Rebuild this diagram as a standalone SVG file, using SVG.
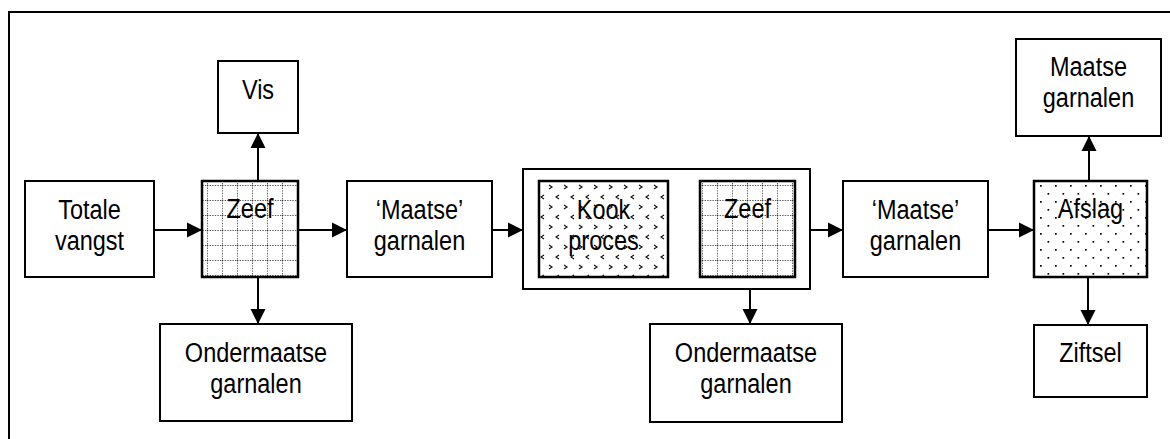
<svg xmlns="http://www.w3.org/2000/svg" width="1170" height="439" viewBox="0 0 1170 439">
<style>
.box{fill:#fff;stroke:#000;stroke-width:2}
.thick{stroke-width:2.5}
.t{font-family:"Liberation Sans",Arial,sans-serif;font-size:27px;fill:#000;text-anchor:middle}
.c{stroke:#000;stroke-width:2;fill:none}
</style>
<defs>
<marker id="ah" markerUnits="userSpaceOnUse" markerWidth="16" markerHeight="16" viewBox="0 0 16 16" refX="15" refY="8" orient="auto">
<path d="M0,0.5 L15,8 L0,15.5 Z" fill="#000"/>
</marker>
<pattern id="grid" patternUnits="userSpaceOnUse" x="207" y="185" width="15" height="15">
<line x1="0" y1="0" x2="15" y2="0" stroke="#222" stroke-width="1.4" stroke-dasharray="1.4 1.2"/>
<line x1="0" y1="0" x2="0" y2="15" stroke="#222" stroke-width="1.4" stroke-dasharray="1.4 1.2"/>
</pattern>
<pattern id="chev" patternUnits="userSpaceOnUse" x="540" y="182" width="15" height="20">
<path d="M9,3 L12,5 L9,7" stroke="#111" stroke-width="1.2" fill="none"/>
<path d="M4,13 L1,15 L4,17" stroke="#111" stroke-width="1.2" fill="none"/>
</pattern>
<pattern id="dots" patternUnits="userSpaceOnUse" x="1040" y="185" width="15" height="16">
<rect x="0" y="0" width="1.7" height="1.7" fill="#000"/>
<rect x="7.5" y="8" width="1.7" height="1.7" fill="#000"/>
</pattern>
</defs>
<rect x="9" y="12" width="1175" height="440" fill="none" stroke="#000" stroke-width="2"/>
<g id="connectors">
<line class="c" x1="154" y1="230" x2="202" y2="230" marker-end="url(#ah)"/>
<line class="c" x1="258" y1="181" x2="258" y2="133" marker-end="url(#ah)"/>
<line class="c" x1="258" y1="277" x2="258" y2="324" marker-end="url(#ah)"/>
<line class="c" x1="298" y1="230" x2="347" y2="230" marker-end="url(#ah)"/>
<line class="c" x1="492" y1="230" x2="523" y2="230" marker-end="url(#ah)"/>
<line class="c" x1="668" y1="230" x2="700" y2="230" marker-end="url(#ah)"/>
<line class="c" x1="750" y1="277" x2="750" y2="324" marker-end="url(#ah)"/>
<line class="c" x1="810" y1="230" x2="843" y2="230" marker-end="url(#ah)"/>
<line class="c" x1="988" y1="230" x2="1034" y2="230" marker-end="url(#ah)"/>
<line class="c" x1="1089" y1="181" x2="1089" y2="136" marker-end="url(#ah)"/>
<line class="c" x1="1088" y1="277" x2="1088" y2="325" marker-end="url(#ah)"/>
</g>
<g id="totale"><rect class="box" x="25" y="181" width="129" height="96"/><text class="t" transform="translate(89.5 219) scale(0.87 1)">Totale</text><text class="t" transform="translate(89.5 250) scale(0.87 1)">vangst</text></g>
<g id="zeef1"><rect class="box thick" x="202" y="181" width="96" height="96"/><rect x="203" y="182" width="94" height="94" fill="url(#grid)"/><text class="t" transform="translate(250 218) scale(0.87 1)">Zeef</text></g>
<g id="vis"><rect class="box" x="218" y="61" width="80" height="72"/><text class="t" transform="translate(258 99) scale(0.87 1)">Vis</text></g>
<g id="onder1"><rect class="box" x="160" y="324" width="192" height="97"/><text class="t" transform="translate(256 362) scale(0.87 1)">Ondermaatse</text><text class="t" transform="translate(256 393) scale(0.87 1)">garnalen</text></g>
<g id="maatse1"><rect class="box" x="347" y="181" width="145" height="96"/><text class="t" transform="translate(419.5 219) scale(0.87 1)">‘Maatse’</text><text class="t" transform="translate(419.5 250) scale(0.87 1)">garnalen</text></g>
<g id="kookgroep"><rect class="box" x="523" y="169" width="287" height="120"/></g>
<g id="kook"><rect class="box thick" x="539" y="181" width="129" height="96"/><rect x="540" y="182" width="127" height="94" fill="url(#chev)"/><text class="t" transform="translate(603.5 219) scale(0.87 1)">Kook</text><text class="t" transform="translate(603.5 250) scale(0.87 1)">proces</text></g>
<g id="zeef2"><rect class="box thick" x="700" y="181" width="95" height="96"/><rect x="701" y="182" width="93" height="94" fill="url(#grid)"/><text class="t" transform="translate(747.5 218) scale(0.87 1)">Zeef</text></g>
<g id="onder2"><rect class="box" x="650" y="324" width="192" height="98"/><text class="t" transform="translate(746 362) scale(0.87 1)">Ondermaatse</text><text class="t" transform="translate(746 393) scale(0.87 1)">garnalen</text></g>
<g id="maatse2"><rect class="box" x="843" y="181" width="145" height="96"/><text class="t" transform="translate(915.5 219) scale(0.87 1)">‘Maatse’</text><text class="t" transform="translate(915.5 250) scale(0.87 1)">garnalen</text></g>
<g id="afslag"><rect class="box thick" x="1034" y="181" width="113" height="96"/><rect x="1035" y="182" width="111" height="94" fill="url(#dots)"/><text class="t" transform="translate(1090.5 218) scale(0.87 1)">Afslag</text></g>
<g id="maatsegarnalen"><rect class="box" x="1016" y="39" width="145" height="97"/><text class="t" transform="translate(1088.5 76) scale(0.87 1)">Maatse</text><text class="t" transform="translate(1088.5 107) scale(0.87 1)">garnalen</text></g>
<g id="ziftsel"><rect class="box" x="1034" y="325" width="113" height="72"/><text class="t" transform="translate(1090.5 362) scale(0.87 1)">Ziftsel</text></g>
</svg>
